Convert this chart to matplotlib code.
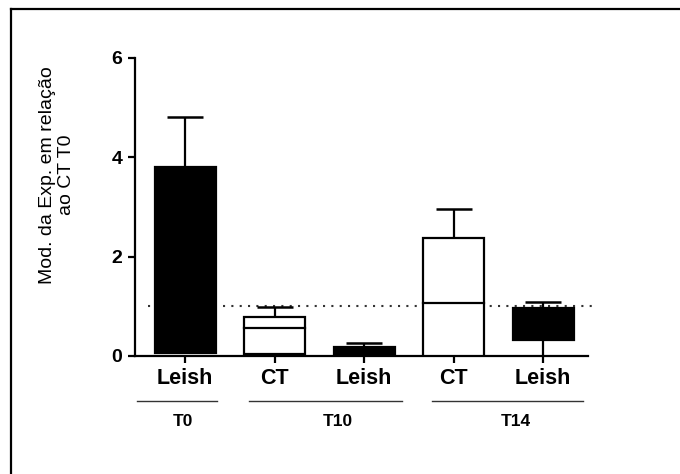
import numpy as np
import matplotlib
matplotlib.use("Agg")
import matplotlib.pyplot as plt

plt.rcParams["font.family"] = ["Liberation Sans", "DejaVu Sans"]

# dados
labels = ["Leish", "CT", "Leish", "CT", "Leish"]
groups = ["T0", "T10", "T14"]
bar_bottom = [0.06, 0.04, 0.0, 0.0, 0.32]
bar_top = [3.80, 0.78, 0.19, 2.37, 0.97]
mid_line = [None, 0.57, None, 1.07, None]
whisk_hi = [4.81, 0.99, 0.26, 2.96, 1.09]
whisk_lo = [None, None, None, None, 0.0]
fills = ["black", "white", "black", "white", "black"]

x = np.arange(len(labels))
w = 0.68

fig = plt.figure(figsize=(6.8, 4.74), dpi=100)
ax = fig.add_axes([0.1985, 0.249, 0.6662, 0.629])

# moldura (apenas topo e esquerda)
fig.add_artist(plt.Line2D([11 / 680, 11 / 680], [0, 1 - 9 / 474], color="black", lw=1.6))
fig.add_artist(plt.Line2D([11 / 680, 1], [1 - 9 / 474, 1 - 9 / 474], color="black", lw=1.6))

for i in range(len(labels)):
    h = bar_top[i] - bar_bottom[i]
    ax.bar(x[i], h, w, bottom=bar_bottom[i], color=fills[i], edgecolor="black",
           linewidth=1.6, zorder=3)
    if mid_line[i] is not None:
        ax.plot([x[i] - w / 2, x[i] + w / 2], [mid_line[i], mid_line[i]],
                color="black", lw=1.6, zorder=4)
    ax.errorbar(x[i], bar_top[i], yerr=[[0], [whisk_hi[i] - bar_top[i]]],
                color="black", capsize=13, elinewidth=1.6, capthick=1.8, zorder=2)
    if whisk_lo[i] is not None:
        ax.plot([x[i], x[i]], [whisk_lo[i], bar_bottom[i]], color="black", lw=1.6, zorder=2)

# linha de referência em 1
ax.plot([-0.42, 4.55], [1, 1], color="#333333", lw=1.5, ls=(0, (1, 3)), zorder=1,
        clip_on=False)

ax.set_xlim(-0.56, 4.5)
ax.set_ylim(0, 6)
ax.set_yticks([0, 2, 4, 6])
ax.set_xticks(x)
ax.set_xticklabels(labels, fontsize=15.5, fontweight="bold")
for t in ax.get_yticklabels():
    t.set_fontsize(14)
    t.set_fontweight("bold")
ax.tick_params(axis="both", width=1.6, length=5, pad=4, color="black")
ax.spines["top"].set_visible(False)
ax.spines["right"].set_visible(False)
ax.spines["left"].set_linewidth(1.6)
ax.spines["bottom"].set_linewidth(1.6)

# rótulo do eixo y
fig.text(57 / 680, 1 - 175 / 474, "Mod. da Exp. em relação\nao CT T0", rotation=90,
         ha="center", va="center", fontsize=14, linespacing=1.2, multialignment="center")

# linhas e rótulos dos grupos
trans = ax.get_xaxis_transform()
group_span = [(-0.536, 0.358), (0.715, 2.425), (2.76, 4.44)]
group_pos = [-0.02, 1.70, 3.69]
for (a, b), gx, g in zip(group_span, group_pos, groups):
    ax.plot([a, b], [-0.151, -0.151], color="#333333", lw=1, transform=trans, clip_on=False)
    ax.text(gx, -0.221, g, transform=trans, ha="center", va="center",
            fontsize=12.5, fontweight="bold")

fig.savefig("out.png", dpi=100)
